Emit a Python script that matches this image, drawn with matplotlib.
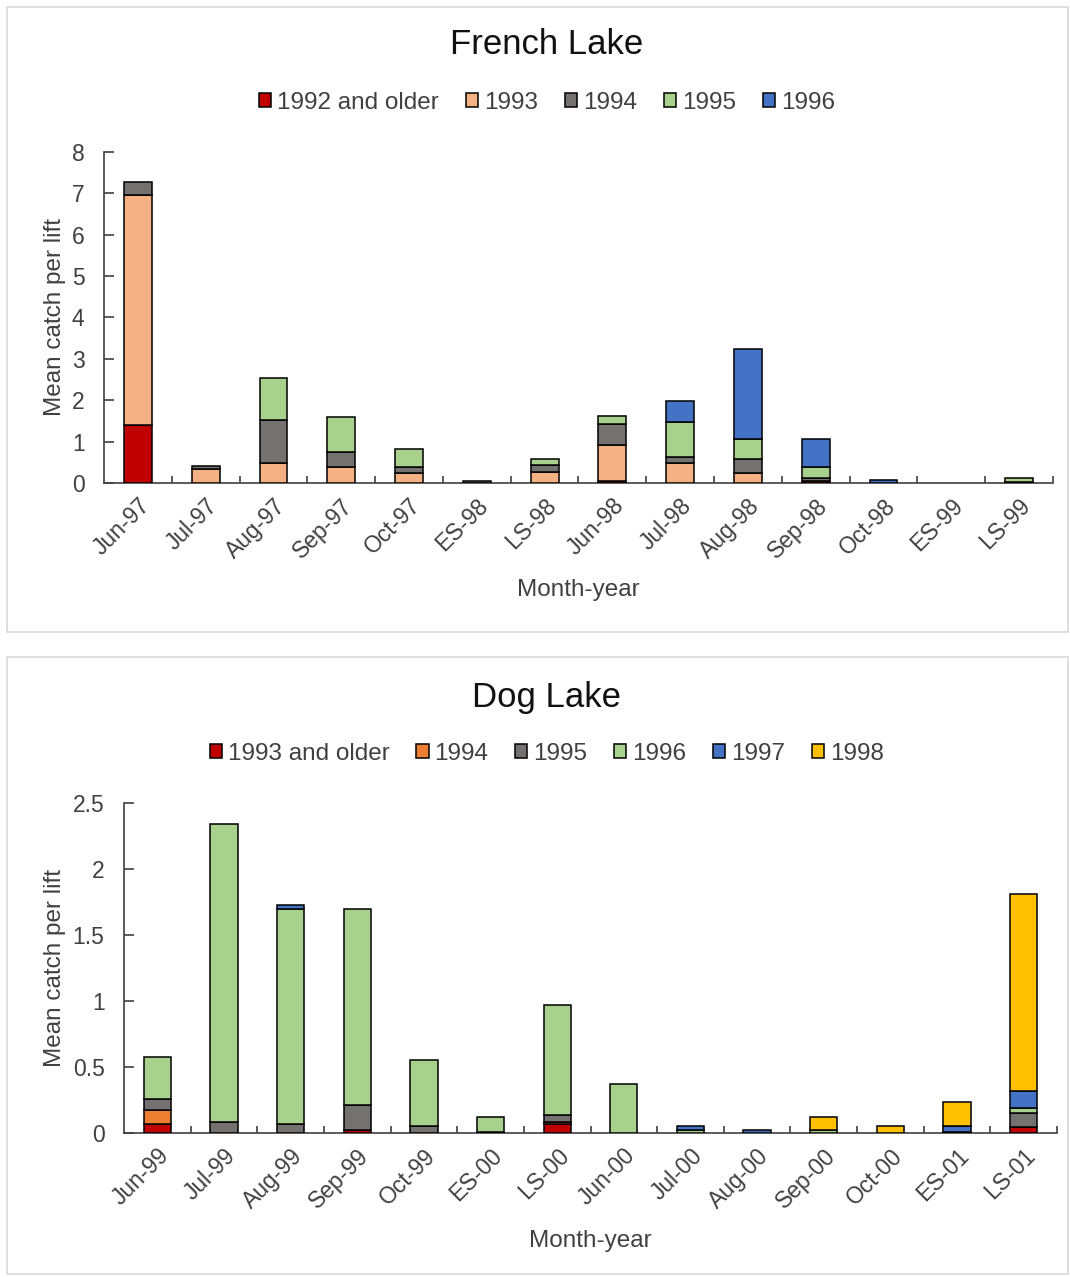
import numpy as np
import matplotlib.pyplot as plt
from matplotlib.patches import Rectangle

plt.rcParams['font.family'] = ['Liberation Sans', 'DejaVu Sans']

# French Lake catches by year class
french_months = ['Jun-97', 'Jul-97', 'Aug-97', 'Sep-97', 'Oct-97', 'ES-98', 'LS-98',
                 'Jun-98', 'Jul-98', 'Aug-98', 'Sep-98', 'Oct-98', 'ES-99', 'LS-99']
french_classes = ['1992 and older', '1993', '1994', '1995', '1996']
fr_1992 = [1.40, 0.00, 0.00, 0.00, 0.00, 0.00, 0.00, 0.04, 0.00, 0.00, 0.04, 0.00, 0.00, 0.00]
fr_1993 = [5.55, 0.35, 0.48, 0.39, 0.25, 0.00, 0.26, 0.89, 0.48, 0.25, 0.02, 0.00, 0.00, 0.00]
fr_1994 = [0.33, 0.05, 1.05, 0.36, 0.14, 0.04, 0.17, 0.50, 0.15, 0.32, 0.07, 0.00, 0.00, 0.02]
fr_1995 = [0.00, 0.00, 1.00, 0.84, 0.42, 0.00, 0.15, 0.20, 0.84, 0.49, 0.26, 0.00, 0.00, 0.10]
fr_1996 = [0.00, 0.00, 0.00, 0.00, 0.00, 0.00, 0.00, 0.00, 0.51, 2.19, 0.68, 0.08, 0.00, 0.00]

# Dog Lake catches by year class
dog_months = ['Jun-99', 'Jul-99', 'Aug-99', 'Sep-99', 'Oct-99', 'ES-00', 'LS-00',
              'Jun-00', 'Jul-00', 'Aug-00', 'Sep-00', 'Oct-00', 'ES-01', 'LS-01']
dog_classes = ['1993 and older', '1994', '1995', '1996', '1997', '1998']
dg_1993 = [0.065, 0.00, 0.00, 0.02, 0.00, 0.00, 0.065, 0.00, 0.00, 0.00, 0.00, 0.00, 0.00, 0.045]
dg_1994 = [0.11, 0.00, 0.00, 0.00, 0.00, 0.00, 0.015, 0.00, 0.00, 0.00, 0.00, 0.00, 0.00, 0.00]
dg_1995 = [0.08, 0.08, 0.07, 0.19, 0.05, 0.01, 0.06, 0.00, 0.00, 0.00, 0.00, 0.00, 0.01, 0.105]
dg_1996 = [0.32, 2.26, 1.63, 1.49, 0.50, 0.11, 0.83, 0.37, 0.02, 0.00, 0.025, 0.00, 0.00, 0.04]
dg_1997 = [0.00, 0.00, 0.03, 0.00, 0.00, 0.00, 0.00, 0.00, 0.035, 0.025, 0.00, 0.00, 0.04, 0.125]
dg_1998 = [0.00, 0.00, 0.00, 0.00, 0.00, 0.00, 0.00, 0.00, 0.00, 0.00, 0.10, 0.05, 0.185, 1.495]

french_colors = ['#C00000', '#F4B183', '#767171', '#A9D18E', '#4472C4']
dog_colors = ['#C00000', '#ED7D31', '#767171', '#A9D18E', '#4472C4', '#FFC000']

W, H = 1070, 1277
fig = plt.figure(figsize=(W / 100, H / 100), dpi=100)


def px_box(left, right, top, bottom):
    return [left / W, 1 - bottom / H, (right - left) / W, (bottom - top) / H]


def panel(top, bottom):
    fig.patches.append(Rectangle((7 / W, 1 - bottom / H), (1068 - 7) / W, (bottom - top) / H,
                                 transform=fig.transFigure, facecolor='none',
                                 edgecolor='#D9D9D9', linewidth=1.2, zorder=0))


def wykres(box, months, classes, series, colors, ymax, ystep, title, title_y, legend_y,
           xlabel_y, ylabel_x, width):
    ax = fig.add_axes(box)
    ax.patch.set_alpha(0)
    x = np.arange(len(months))
    bottom = np.zeros(len(months))
    for name, vals, col in zip(classes, series, colors):
        vals = np.array(vals, dtype=float)
        # zero segments are left out so they do not leave an outline on the axis
        ax.bar(x, np.where(vals > 0, vals, np.nan), width=width, bottom=bottom, color=col,
               edgecolor='black', linewidth=1.1, label=name, zorder=3)
        bottom += vals

    ax.set_xlim(-0.5, len(months) - 0.5)
    ax.set_ylim(0, ymax)
    ticks = np.arange(0, ymax + ystep / 2, ystep)
    ax.set_yticks(ticks)
    ax.set_yticklabels([f'{t:g}' for t in ticks], fontsize=16.5, color='#404040')
    ax.set_xticks(x)
    ax.set_xticklabels(months, rotation=45, ha='right', rotation_mode='anchor',
                       fontsize=16.5, color='#404040')
    ax.set_xticks(np.arange(0.5, len(months)), minor=True)
    ax.tick_params(axis='x', which='major', length=0, pad=8)
    ax.tick_params(axis='x', which='minor', direction='in', length=5, width=1.2, color='#404040')
    ax.tick_params(axis='y', direction='in', length=7, width=1.2, color='#404040', pad=14)
    for s in ['top', 'right']:
        ax.spines[s].set_visible(False)
    for s in ['left', 'bottom']:
        ax.spines[s].set_color('#404040')
        ax.spines[s].set_linewidth(1.2)

    fig.text(547 / W, 1 - title_y / H, title, ha='center', va='center', fontsize=25,
             color='#111111')
    handles, labels = ax.get_legend_handles_labels()
    fig.legend(handles, labels, loc='center', bbox_to_anchor=(547 / W, 1 - legend_y / H),
               ncol=len(classes), frameon=False, fontsize=17.5, handlelength=0.5,
               handleheight=0.5, handletextpad=0.25, columnspacing=1.1,
               labelcolor='#404040')
    fig.text((box[0] + box[2] / 2), 1 - xlabel_y / H, 'Month-year', ha='center',
             va='center', fontsize=17.5, color='#404040')
    fig.text(ylabel_x / W, box[1] + box[3] / 2, 'Mean catch per lift', rotation=90,
             ha='center', va='center', fontsize=17.5, color='#404040')
    return ax


panel(7, 632)
panel(657, 1274)

wykres(px_box(104, 1053, 152, 483), french_months, french_classes,
       [fr_1992, fr_1993, fr_1994, fr_1995, fr_1996], french_colors,
       8, 1, 'French Lake', 45, 103, 590, 55, 0.41)

wykres(px_box(124, 1057, 803, 1133), dog_months, dog_classes,
       [dg_1993, dg_1994, dg_1995, dg_1996, dg_1997, dg_1998], dog_colors,
       2.5, 0.5, 'Dog Lake', 697, 754, 1241, 55, 0.41)

fig.savefig('out.png', dpi=100)
